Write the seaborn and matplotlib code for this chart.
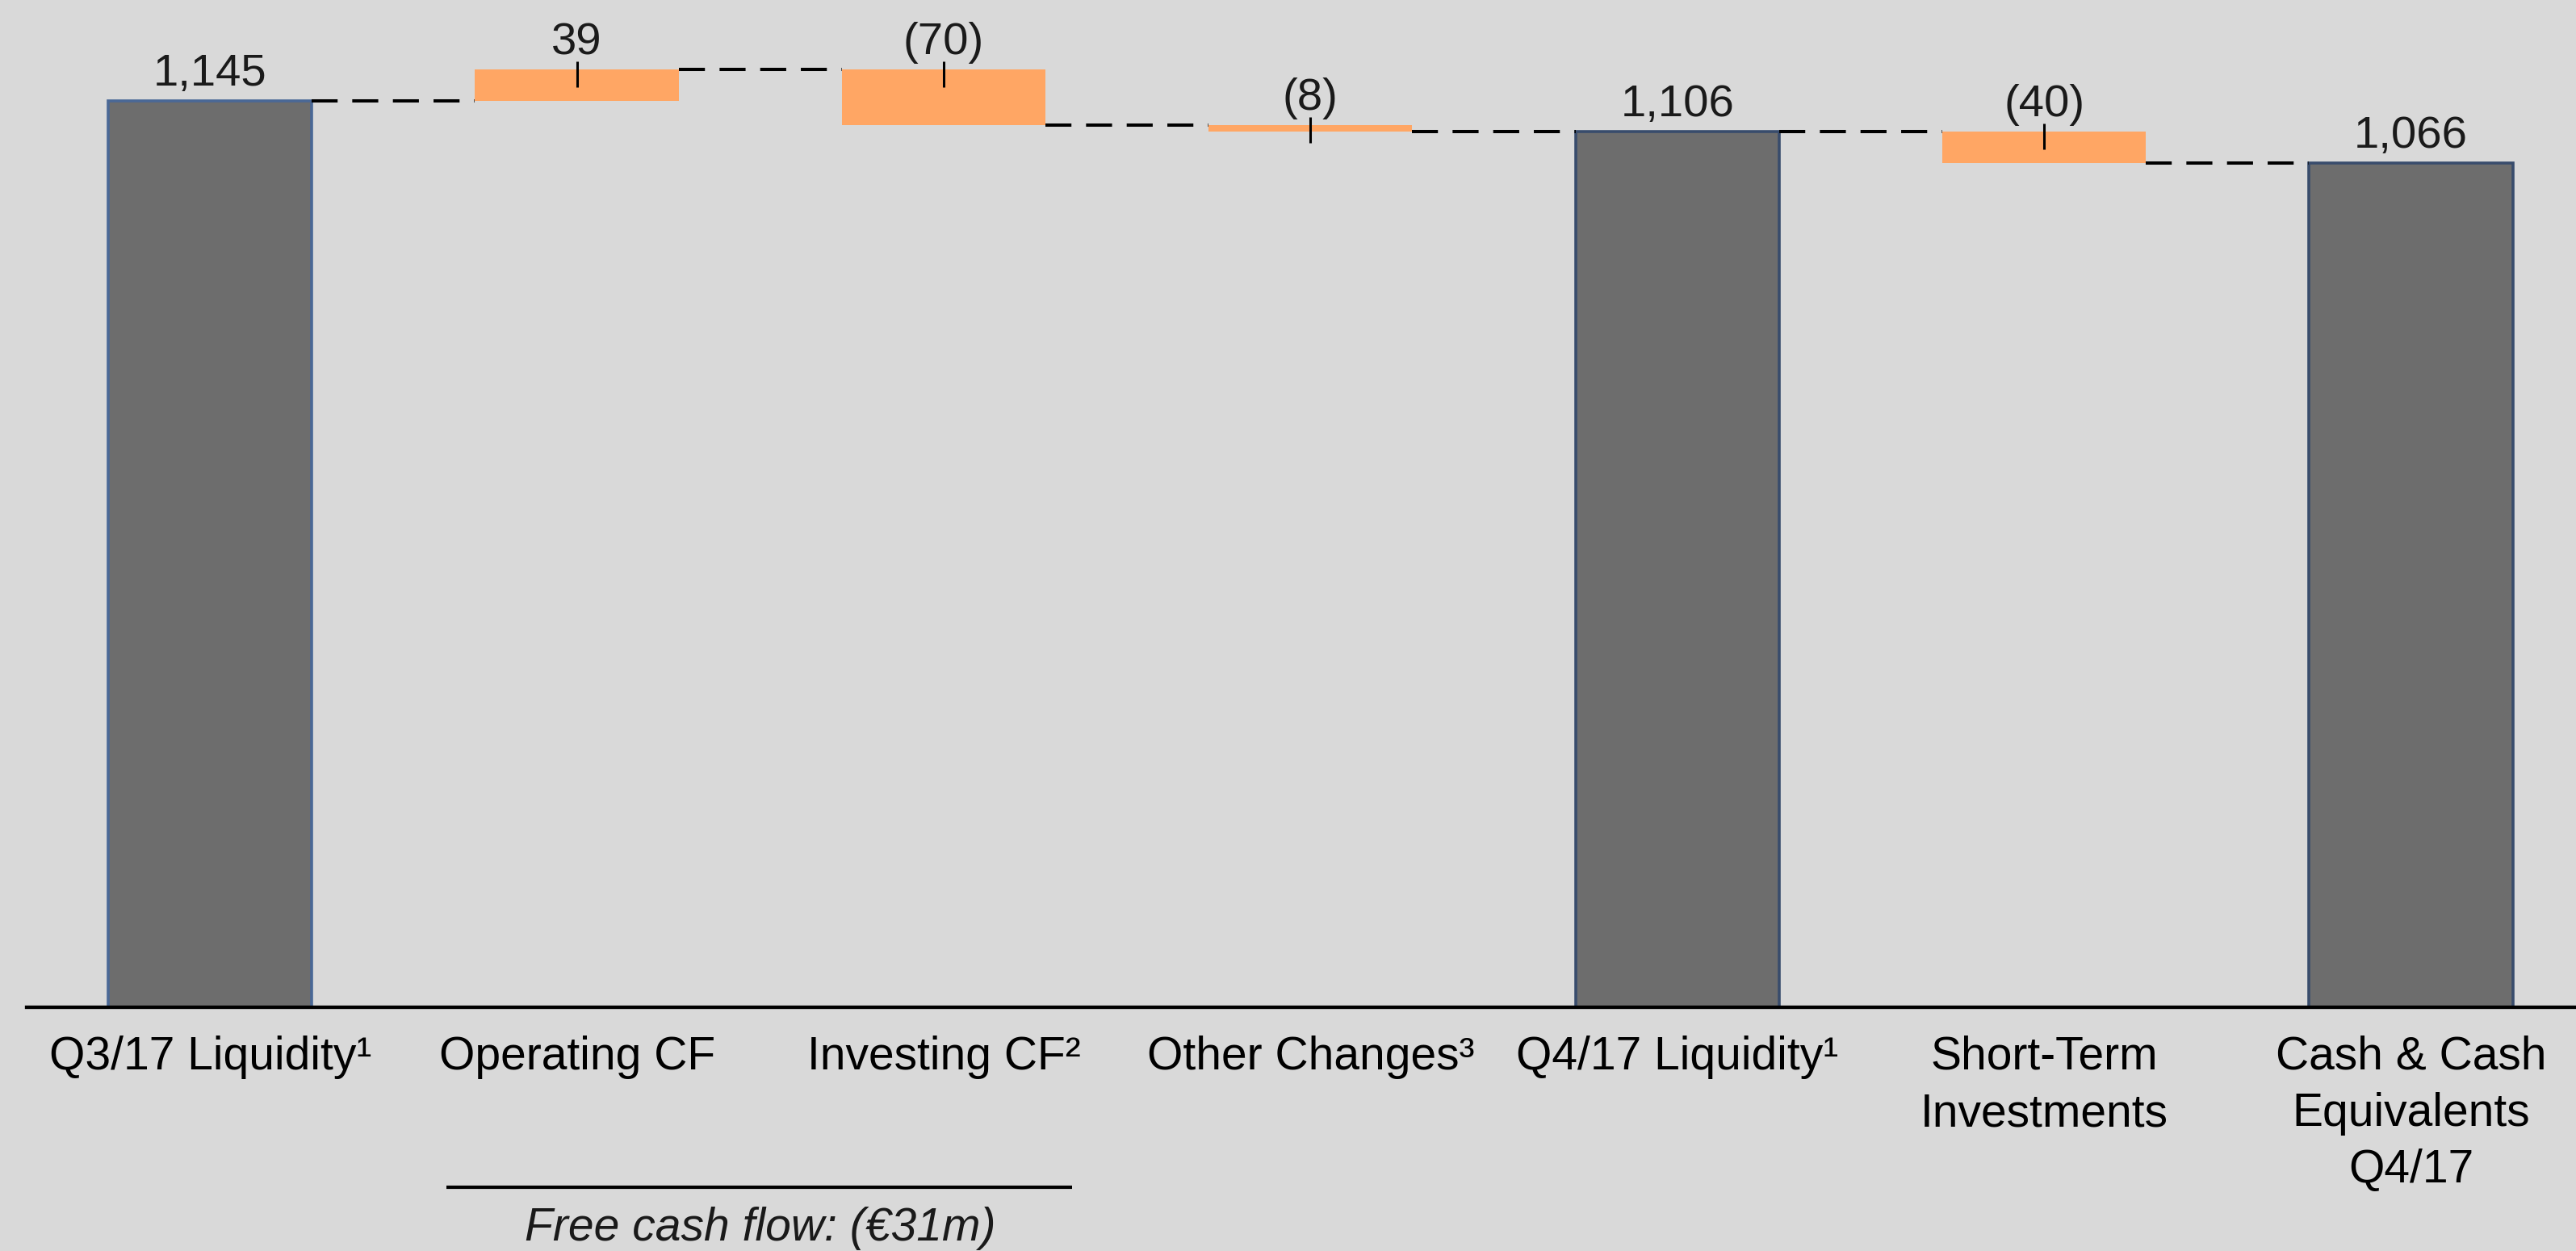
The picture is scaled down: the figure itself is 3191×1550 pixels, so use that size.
import matplotlib
matplotlib.use("Agg")
import matplotlib.pyplot as plt
import matplotlib.transforms as mtransforms
import seaborn as sns
import pandas as pd

# ---- data ----
categories = ["Q3/17 Liquidity\u00b9", "Operating CF", "Investing CF\u00b2", "Other Changes\u00b3",
              "Q4/17 Liquidity\u00b9", "Short-Term\nInvestments", "Cash & Cash\nEquivalents\nQ4/17"]
values = [1145, 39, -70, -8, 1106, -40, 1066]
kinds = ["total", "delta", "delta", "delta", "total", "delta", "total"]
value_labels = ["1,145", "39", "(70)", "(8)", "1,106", "(40)", "1,066"]
footnote_text = "Free cash flow: (\u20ac31m)"

BG = "#D9D9D9"
GRAY = "#6D6D6D"
ORANGE = "#FFA664"

sns.set_theme(style="white")
plt.rcParams["font.family"] = ["Liberation Sans", "DejaVu Sans"]

# running waterfall levels
starts, ends = [], []
running = 0
for v, k in zip(values, kinds):
    if k == "total":
        starts.append(0)
        ends.append(v)
        running = v
    else:
        starts.append(running)
        running = running + v
        ends.append(running)
lows = [min(s, e) for s, e in zip(starts, ends)]
highs = [max(s, e) for s, e in zip(starts, ends)]

df = pd.DataFrame({"cat": categories, "high": highs, "kind": kinds})
palette = {c: (GRAY if k == "total" else ORANGE) for c, k in zip(categories, kinds)}

fig = plt.figure(figsize=(31.91, 15.5), dpi=100)
fig.patch.set_facecolor(BG)
ymax = 1270
ax = fig.add_axes([33 / 3191, 302 / 1550, 1 - 33 / 3191, ymax * 0.981 / 1550])
ax.set_facecolor(BG)

W = 0.555
sns.barplot(data=df, x="cat", y="high", hue="cat", palette=palette, width=W,
            saturation=1, legend=False, ax=ax, order=categories, hue_order=categories)

edge_cols = ["#4A6896", None, None, None, "#384C6C", None, "#384C6C"]
for i, p in enumerate(ax.patches[:len(categories)]):
    p.set_y(lows[i])
    p.set_height(highs[i] - lows[i])
    if kinds[i] == "total":
        p.set_edgecolor(edge_cols[i])
        p.set_linewidth(2.6)
    else:
        p.set_linewidth(0)

# connectors
for i in range(len(categories) - 1):
    ax.plot([i + W / 2, i + 1 - W / 2], [ends[i], ends[i]], color="black", lw=2.9,
            linestyle=(0, (8, 4.5)), dash_capstyle="butt", solid_capstyle="butt", zorder=3)

# value labels and small tick marks
tick_tr = ax.transData + mtransforms.ScaledTranslation(0, -6 / 100, fig.dpi_scale_trans)
for i, (lab, k) in enumerate(zip(value_labels, kinds)):
    ax.annotate(lab, xy=(i, highs[i]), xytext=(0, 13.7), textcoords="offset points",
                ha="center", va="baseline", fontsize=40.5, color="#1a1a1a")
    if k == "delta":
        ax.plot([i], [highs[i]], marker="|", markersize=23, mew=2.2, color="black",
                transform=tick_tr, zorder=4)

ax.set_xlim(-0.5, 6.45)
ax.set_ylim(0, ymax)
ax.set_xlabel("")
ax.set_ylabel("")
ax.set_yticks([])
ax.set_xticks(range(len(categories)))
ax.set_xticklabels(categories, fontsize=41, linespacing=1.39, color="black")
ax.tick_params(axis="x", length=0, pad=25)
for s in ["top", "left", "right"]:
    ax.spines[s].set_visible(False)
ax.spines["bottom"].set_color("black")
ax.spines["bottom"].set_linewidth(3.1)

# free cash flow bracket
btr = mtransforms.blended_transform_factory(ax.transData, fig.transFigure)
ax.plot([0.645, 2.35], [(1550 - 1471) / 1550] * 2, color="black", lw=3.0,
        transform=btr, clip_on=False, solid_capstyle="butt")
ax.text(1.5, (1550 - 1537) / 1550, footnote_text, transform=btr, ha="center",
        va="baseline", fontsize=41, style="italic", color="#1a1a1a")

fig.savefig("out.png", dpi=100, facecolor=BG)
